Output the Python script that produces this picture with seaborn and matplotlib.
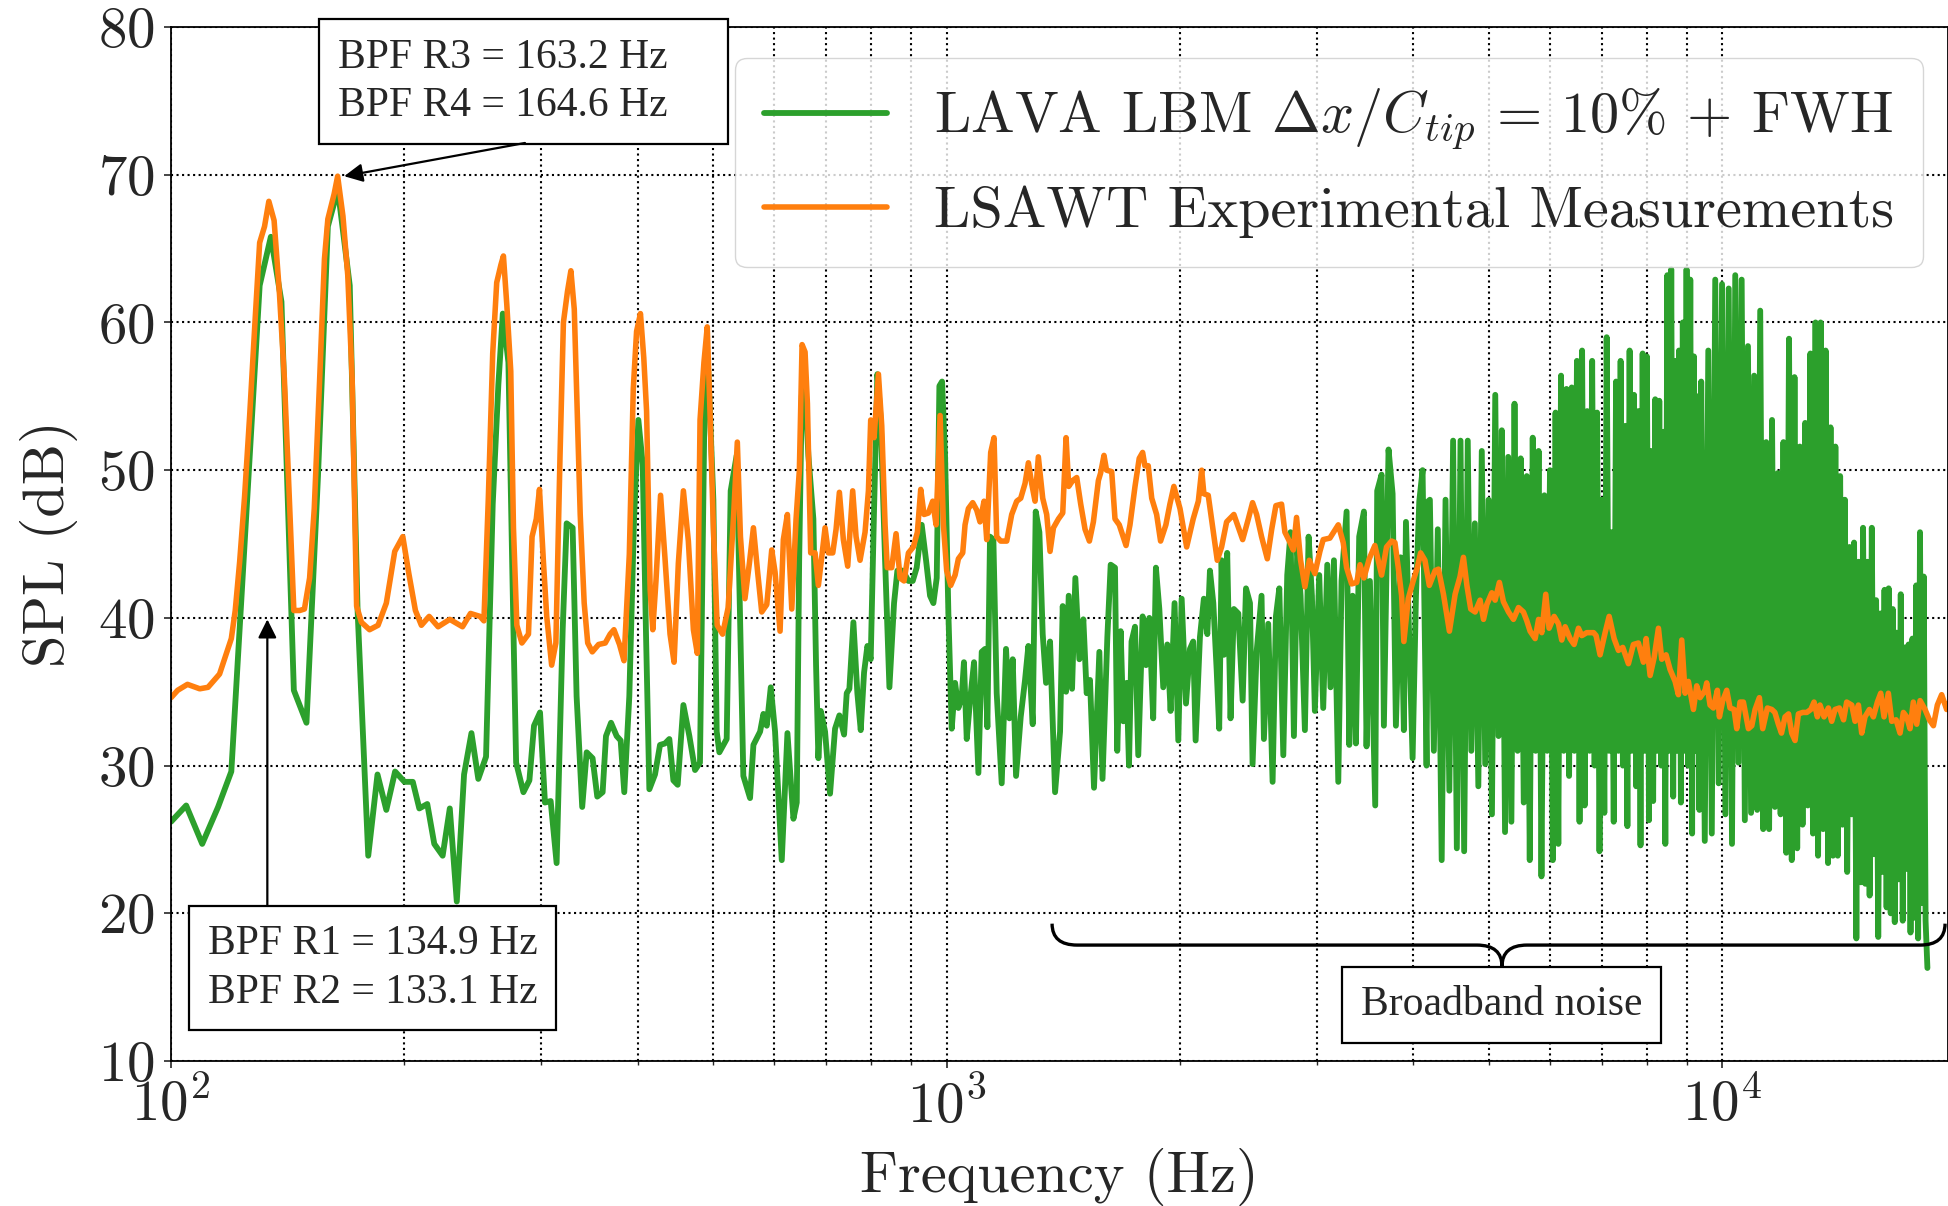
import numpy as np
import pandas as pd
import seaborn as sns
import matplotlib.pyplot as plt
from matplotlib.path import Path
from matplotlib.patches import PathPatch

## LAVA LBM + FWH spectrum, tonal / low frequency part
lava_freq_low = [100, 104.6, 109.7, 115, 119.6, 130.1, 134.5, 138.8, 144, 149.5, 154.7, 159.3, 164.1, 170, 174,
                 179.6, 184.6, 189.5, 194.5, 200, 205, 209, 214, 218.5, 224, 228.8, 233.6, 238.7, 244, 249,
                 254.8, 259.9, 264.3, 267.8, 272.3, 276.4, 278.6, 284.7, 289.8, 293.8, 299.1, 303.5, 308.7, 314.2,
                 319.9, 323.7, 329.5, 333.4, 339, 343.5, 349.6, 354.5, 360.2, 363.8, 369.3, 375.5, 380, 384.1,
                 389.9, 395.4, 400.5, 405.7, 409.7, 413.8, 420.8, 427.1, 433.5, 439.1, 444.4, 450.1, 457.8, 466,
                 473.9, 480.9, 487.2, 493, 500.4, 505.4, 509.4, 520.6, 526.8, 536.3, 547, 558, 563.6, 574.9, 580.6,
                 586.4, 593.4, 601, 613.1, 623.5, 634.7, 641, 645.6, 650.6, 655, 663.5, 673.4, 678.8, 683.5, 688.3,
                 697.2, 707.6, 718.2, 727.5, 737.7, 743.5, 749.4, 758.4, 767.4, 775.1, 782.8, 790.6, 798.4, 806.4,
                 814.4, 822.5, 833.2, 844, 855.7, 864.2, 878.1, 893, 904.5, 915.2, 928.9, 941, 952.2, 961.7, 971.3,
                 979, 986.8, 995.6, 1005.5, 1015.5, 1025.7, 1035.8, 1046, 1053, 1061.8, 1072.3, 1085.1, 1099.2,
                 1110.1, 1121.2, 1128.9, 1137.8, 1149.2, 1160.6, 1178, 1193.2, 1205.1, 1217.1, 1229.2, 1246.4,
                 1262.5, 1275.1, 1291.6, 1303.1, 1317.4, 1330.5, 1343.8, 1359.8, 1380.2, 1400.8, 1412, 1426,
                 1437.3, 1451.6, 1465.9, 1483.4, 1501.1, 1516, 1531, 1549.4, 1574.2]
lava_spl_low = [26.2, 27.3, 24.7, 27.2, 29.6, 62.5, 65.8, 61.4, 35.1, 32.9, 49.6, 66.5, 69.0, 62.5, 40.5,
                23.9, 29.4, 27.0, 29.6, 28.9, 28.9, 27.1, 27.4, 24.7, 23.9, 27.1, 20.8, 29.4, 32.2, 29.1,
                30.6, 47.7, 55.8, 60.6, 57.3, 39.2, 30.2, 28.2, 29.0, 32.7, 33.6, 27.5, 27.6, 23.4,
                39.2, 46.4, 46.1, 34.7, 27.2, 30.9, 30.5, 27.9, 28.2, 32.0, 32.9, 32.0, 31.7, 28.2,
                34.7, 46.7, 53.4, 50.4, 38.9, 28.4, 29.4, 31.4, 31.5, 31.8, 29.0, 28.7, 34.1, 32.0,
                29.7, 30.2, 53.4, 56.7, 48.0, 32.3, 30.9, 31.8, 48.6, 51.0, 29.3, 27.8, 31.4, 32.3, 33.5,
                32.7, 35.3, 32.3, 23.6, 32.2, 26.4, 27.5, 43.9, 55.0, 57.0, 51.0, 46.7, 36.8, 30.5, 33.7,
                32.3, 28.1, 32.5, 33.4, 32.1, 34.9, 35.2, 39.7, 34.9, 32.4, 36.3, 38.1, 37.2, 47.4,
                56.5, 53.4, 43.9, 35.3, 41.0, 43.2, 43.2, 42.5, 42.5, 43.4, 46.3, 43.9, 41.5, 41.0, 42.7,
                55.7, 56.0, 51.0, 40.3, 32.5, 35.6, 33.9, 34.6, 37.0, 31.8, 34.4, 37.0, 29.5,
                37.7, 37.9, 32.6, 45.5, 45.3, 34.9, 28.8, 37.9, 33.2, 37.2, 29.3, 33.3,
                35.8, 38.1, 32.8, 47.2, 45.8, 38.9, 35.6, 38.4, 28.2, 32.3, 40.8, 35.0,
                41.5, 35.2, 42.7, 37.2, 39.9, 34.9, 35.8, 28.5, 37.7]

## LAVA, 1.5 - 4.2 kHz
lava_freq_mid = [1589, 1612, 1628, 1649, 1660, 1677, 1690, 1707, 1719, 1732, 1750, 1767, 1790, 1808, 1826, 1847,
                 1862, 1881, 1903, 1926, 1945, 1968, 1990, 2010, 2036, 2060, 2080, 2095, 2122, 2147, 2169, 2186,
                 2208, 2230, 2247, 2263, 2279, 2301, 2324, 2347, 2378, 2409, 2433, 2462, 2481, 2511, 2548, 2566,
                 2599, 2633, 2659, 2686, 2718, 2750, 2777, 2805, 2833, 2861, 2898, 2930, 2959, 2985, 3024, 3060,
                 3097, 3127, 3159, 3200, 3231, 3280, 3306, 3339, 3372, 3405, 3453, 3480, 3515, 3571, 3592, 3639,
                 3664, 3715, 3760, 3797, 3850, 3888, 3912, 3990, 4030, 4070, 4110, 4159, 4180]
lava_spl_mid = [29.1, 38.7, 43.6, 43.4, 31.0, 39.1, 33.0, 35.6, 30.0, 38.4, 39.4, 30.7, 40.1, 36.8, 40.0, 33.2,
                43.4, 40.6, 35.3, 38.2, 33.7, 41.0, 31.7, 41.3, 34.2, 37.9, 38.4, 31.7, 38.7, 41.3, 38.9, 43.2,
                41.0, 36.5, 32.5, 43.9, 37.5, 44.4, 33.2, 40.6, 40.3, 34.4, 42.0, 41.0, 30.1, 37.7, 41.5, 31.8,
                39.6, 28.9, 40.1, 42.0, 30.7, 42.9, 45.8, 32.0, 44.8, 41.5, 32.4, 45.5, 41.5, 33.7, 42.9, 33.9,
                43.6, 35.3, 43.9, 28.9, 42.5, 47.2, 31.4, 41.5, 31.5, 45.5, 47.2, 31.3, 42.5, 27.3, 48.6, 49.7,
                32.7, 51.4, 48.4, 32.7, 44.1, 32.4, 46.5, 30.5, 41.5, 47.9, 50.0, 30.0, 47.9]

## LAVA broadband part, 4.2 - 9.4 kHz
lava_freq_bb1 = [4200, 4250, 4300, 4350, 4400, 4450, 4500, 4550, 4600, 4650, 4700, 4750, 4800, 4850, 4900, 4950,
                 5000, 5050, 5100, 5150, 5200, 5250, 5300, 5350, 5400, 5450, 5500, 5550, 5600, 5650, 5700, 5750,
                 5800, 5850, 5900, 5950, 6000, 6050, 6100, 6150, 6200, 6250, 6300, 6350, 6400, 6450, 6500, 6550,
                 6600, 6650, 6700, 6750, 6800, 6850, 6900, 6950, 7000, 7050, 7100, 7150, 7200, 7250, 7300, 7350,
                 7400, 7450, 7500, 7550, 7600, 7650, 7700, 7750, 7800, 7850, 7900, 7950, 8000, 8050, 8100, 8150,
                 8200, 8250, 8300, 8350, 8400, 8450, 8500, 8550, 8600, 8650, 8700, 8750, 8800, 8850, 8900, 8950,
                 9000, 9050, 9100, 9150, 9200, 9250, 9300, 9350]
lava_spl_bb1 = [48, 31, 46, 23.6, 48, 28.3, 52, 24.4, 52, 24.2,
                52, 31, 46.4, 28.6, 51.3, 30.1, 48, 26.7, 55.1, 32,
                52.7, 25.5, 50.9, 26.2, 54.5, 31, 50.8, 27.5, 49.6, 23.6,
                52.2, 31, 51.3, 22.5, 48.3, 31, 50, 23.6, 53.9, 24.7,
                56.4, 31, 55.5, 29.3, 55.6, 31, 57.4, 26.2, 58.1, 27.3,
                54, 31, 57.4, 30, 53.9, 24.2, 48, 26.8, 59, 31,
                45.8, 26.2, 56, 31, 57.4, 30, 53, 25.9, 58.1, 31,
                55.1, 28.6, 54, 24.6, 57.9, 31, 57.7, 26.3, 51.3, 27.6,
                54.8, 31, 54.7, 30, 52.6, 24.7, 63.2, 31, 63.6, 27.9,
                57.4, 31, 58.1, 27.5, 60, 31, 63.6, 30, 62.9, 25.4,
                57.7, 31, 55, 27]

## LAVA broadband part, 9.4 - 18.4 kHz
lava_freq_bb2 = [9400, 9500, 9600, 9700, 9800, 9900, 10000, 10100, 10200, 10300, 10400, 10500, 10600, 10700,
                 10800, 10900, 11000, 11100, 11200, 11300, 11400, 11500, 11600, 11700, 11800, 11900, 12000,
                 12100, 12200, 12300, 12400, 12500, 12600, 12700, 12800, 12900, 13000, 13100, 13200, 13300,
                 13400, 13500, 13600, 13700, 13800, 13900, 14000, 14100, 14200, 14300, 14400, 14500, 14600,
                 14700, 14800, 14900, 15000, 15100, 15200, 15300, 15400, 15500, 15600, 15700, 15800, 15900,
                 16000, 16100, 16200, 16300, 16400, 16500, 16600, 16700, 16800, 16900, 17000, 17100, 17200,
                 17300, 17400, 17500, 17600, 17700, 17800, 17900, 18000, 18100, 18200, 18300, 18400]
lava_spl_bb2 = [56, 24.9, 58.1, 25.4, 62.9, 28.8, 62.6, 26.7, 62.3, 24.7, 63.2, 30.2, 62.9, 26.3,
                58.4, 26.8, 56.4, 27, 60.8, 25.7, 51.9, 25.7, 53.4, 27.2, 49.8, 26.7, 51.9,
                24.1, 58.9, 23.6, 56.3, 24.4, 51.6, 26, 53.2, 27.3, 57.9, 25.4, 60, 23.9,
                60, 25.7, 58.1, 23.4, 52.9, 23.9, 51.6, 23.9, 49.6, 26, 48, 22.8, 44.8,
                26.7, 45.1, 18.3, 43.8, 22.1, 46.1, 22, 43.8, 21.2, 46.1, 24, 41.2, 18.4,
                40.3, 22.8, 41.9, 20.4, 42, 20, 40.6, 19.4, 39, 22.3, 41.6, 19.5, 38,
                23, 38.2, 18.7, 38.6, 19.7, 42.2, 18.3, 45.8, 20.7, 42.8, 19.5, 16.3]

## LSAWT experimental measurements
exp_freq = [100, 102, 105, 108.9, 111.6, 115.5, 119.6, 121, 122.6, 124.4, 126.3, 128.4, 130.1, 132, 133.7, 135.8,
            138, 140, 141.7, 144, 146.5, 148.6, 150.9, 153, 155.4, 157.7, 159.3, 162.3, 164, 166.6, 169, 171.2,
            173.5, 176, 180.3, 184.9, 189.5, 194.3, 199, 202.6, 206.6, 210.3, 215.2, 221, 228.8, 237.6, 243.3,
            250.3, 253.2, 256.5, 259.9, 263, 266.3, 268.3, 271, 274.2, 276.4, 279.2, 283.4, 289, 292.1, 295.8,
            298.6, 302.2, 305.1, 309.6, 313.5, 317.4, 320.6, 324.5, 327.8, 331.1, 334.2, 337, 341, 344.6, 349.3,
            355.9, 363, 368.3, 372.5, 378.7, 383.8, 389.9, 394.5, 398.4, 403, 407, 410.4, 414.8, 418, 422, 427.8,
            433.5, 440, 445.3, 451, 457.8, 464.6, 471.6, 477.1, 481, 486.6, 491.4, 495.2, 500.4, 506.1, 514.3,
            522.9, 531.5, 537.3, 542.3, 549.6, 556.9, 563.6, 570.7, 577.7, 586.4, 595.1, 601,
            610, 616, 623.4, 631.6, 639.7, 646, 651.2, 657, 661.6, 668.1, 676.8, 683.5, 690.3, 697.2, 704.1,
            713.3, 720.4, 727.5, 736.1, 745.7, 756.8, 764.4, 773.5, 785.1, 793, 798.4, 806.4, 816.9, 825, 833.2,
            838.6, 849.8, 860.8, 871.1, 881.5, 893, 906.2, 917.1, 926.2, 935.4, 947.6, 959.8, 969.4, 981, 990.8,
            1000.4, 1012.5, 1025.7, 1035.8, 1049.2, 1056.5, 1067, 1080.8, 1093.7, 1104.5, 1117.8, 1126.7, 1140.1,
            1151.4, 1160.6, 1174.5, 1195.6, 1213.5, 1231.7, 1246.4, 1262.5, 1275.1, 1287.6, 1300.5, 1313.4,
            1330.5, 1346.3, 1359.8, 1373.6, 1394.2, 1412, 1426, 1437.3, 1454.5, 1471.9, 1489.4, 1508.7, 1528.3,
            1546.5, 1569.7, 1580, 1596, 1608, 1633, 1649, 1670, 1704, 1724, 1750, 1772, 1790, 1802, 1820, 1839,
            1866, 1888, 1918, 1941, 1964, 2000, 2040, 2080, 2112, 2133, 2147, 2175, 2208, 2234, 2263, 2297, 2347,
            2409, 2450, 2481, 2511, 2548, 2592, 2626, 2659, 2704, 2731, 2767, 2800, 2827, 2861, 2898, 2936, 2985,
            3030, 3060, 3121, 3200, 3247, 3280, 3329, 3380, 3413, 3453, 3508, 3567, 3639, 3693, 3749, 3786, 3824,
            3862, 3888, 3939, 3997, 4046, 4086, 4139, 4193, 4266, 4308, 4373, 4451, 4527, 4594, 4640, 4688, 4742,
            4804, 4875, 4925, 4973, 5048, 5098, 5163, 5225, 5305, 5383, 5464, 5545, 5601, 5656, 5741, 5800, 5855,
            5925, 5984, 6074, 6153, 6213, 6276, 6368, 6445, 6529, 6594, 6692, 6829, 6880, 6962, 7067, 7152, 7258,
            7352, 7447, 7573, 7686, 7801, 7918, 7982, 8077, 8173, 8279, 8361, 8469, 8571, 8699, 8785, 8872, 8961,
            9049, 9185, 9276, 9369, 9509, 9555, 9650, 9746, 9862, 9922, 10021, 10140, 10240, 10364, 10446, 10549,
            10654, 10814, 10923, 11031, 11172, 11284, 11441, 11591, 11698, 11822, 11930, 12058, 12183, 12299,
            12421, 12545, 12708, 12860, 13016, 13141, 13272, 13376, 13537, 13713, 13849, 13987, 14169, 14344,
            14478, 14697, 14843, 14991, 15139, 15287, 15489, 15673, 15860, 16018, 16176, 16385, 16552, 16766,
            16964, 17134, 17303, 17474, 17647, 17825, 18004, 18271, 18508, 18731, 18951, 19196, 19483, 19600]
exp_spl = [34.6, 35.1, 35.5, 35.2, 35.3, 36.2, 38.6, 40.5, 43.8, 48.2, 53.7, 60.3, 65.4, 66.5, 68.2, 66.9,
           61.9, 56.2, 49.6, 40.5, 40.5, 40.6, 42.7, 47.4, 55.9, 64.3, 67.0, 68.7, 69.9, 67.2, 63.2, 56.2,
           40.8, 39.7, 39.2, 39.5, 41.0, 44.5, 45.5, 43.0, 40.5, 39.5, 40.1, 39.4, 39.9, 39.4, 40.3,
           40.1, 39.8, 48.0, 57.9, 62.7, 63.9, 64.5, 61.2, 56.7, 46.1, 39.5, 38.3, 38.9, 45.5, 46.7,
           48.7, 43.7, 40.1, 36.8, 38.3, 51.0, 60.0, 62.1, 63.5, 60.9, 53.7, 47.0, 41.0, 38.3, 37.7,
           38.2, 38.3, 38.9, 39.2, 38.2, 37.1, 44.3, 55.5, 59.4, 60.6, 57.6, 54.0, 41.9, 39.2, 42.5, 48.3,
           44.0, 38.9, 37.0, 43.7, 48.6, 45.2, 39.2, 37.6, 53.4, 57.3, 59.7, 54.3, 46.1, 39.5, 38.9,
           40.7, 47.0, 51.9, 45.5, 41.3, 43.7, 46.1, 43.1, 40.4, 40.9, 44.6, 43.1,
           39.1, 45.3, 47.0, 40.6, 46.7, 50.0, 58.5, 58.0, 54.5, 44.4, 44.4, 42.2, 44.1, 46.1, 44.4,
           44.4, 46.0, 48.5, 45.3, 43.5, 48.6, 45.5, 43.9, 45.8, 48.6, 53.4, 52.2, 56.5, 53.0, 46.3,
           43.4, 43.4, 45.7, 42.7, 42.5, 44.4, 44.8, 45.8, 48.7, 47.0, 47.1, 47.9, 46.3, 53.7, 46.3,
           43.2, 42.2, 42.9, 44.0, 44.4, 46.3, 47.4, 47.8, 47.3, 46.5, 47.9, 45.3, 51.2,
           52.2, 45.5, 45.2, 45.2, 47.0, 47.9, 48.1, 49.1, 50.5, 49.1, 47.9, 50.9,
           48.1, 47.0, 44.5, 46.1, 46.7, 47.1, 52.2, 48.9, 49.3, 49.5, 47.7, 46.0, 45.2,
           46.5, 49.3, 49.8, 51.0, 50.0, 49.9, 46.7, 46.3, 44.9, 46.3, 48.9, 50.8, 51.2, 50.3, 50.3, 48.1,
           47.0, 45.2, 46.3, 47.7, 48.9, 47.4, 44.8, 46.7, 47.9, 50.0, 48.4, 48.3, 45.8, 43.9, 44.8, 46.5, 47.0,
           45.3, 46.7, 47.8, 47.0, 45.5, 44.0, 46.0, 47.6, 47.7, 45.8, 45.2, 44.6, 46.8, 43.9, 42.1, 43.9, 43.0,
           44.5, 45.3, 45.4, 46.3, 45.1, 43.4, 42.3, 42.4, 43.6, 42.7, 44.0, 44.9, 42.9, 44.8, 45.2, 45.1, 43.4,
           41.5, 38.4, 41.3, 42.5, 43.4, 44.4, 43.9, 42.2, 43.2, 43.3, 41.6, 39.1, 41.6, 42.8, 44.1, 42.2, 40.6,
           40.4, 41.2, 39.9, 40.9, 41.7, 41.2, 42.4, 41.1, 40.4, 39.9, 40.7, 40.4, 39.8, 39.1, 38.6, 39.9, 39.0,
           41.6, 39.3, 40.1, 39.6, 38.5, 39.4, 38.6, 38.2, 39.3, 38.8, 39.0, 39.0, 38.8, 37.5, 39.0, 40.1, 38.6,
           37.8, 38.0, 36.9, 38.2, 38.3, 37.0, 38.6, 36.1, 37.3, 39.3, 37.2, 37.5, 36.5, 35.7, 34.8, 38.5, 34.9,
           35.7, 33.8, 35.4, 34.6, 35.1, 35.6, 34.1, 33.9, 35.1, 33.3, 34.4, 35.1, 33.9, 33.8, 32.5, 34.3,
           34.3, 32.5, 32.7, 33.8, 34.6, 32.5, 33.9, 33.8, 33.6, 32.8, 32.2, 33.3, 33.5, 32.2,
           31.7, 33.5, 33.6, 33.6, 33.8, 34.3, 33.3, 34.1, 33.3, 33.9, 33.0, 33.8, 33.9, 33.1,
           34.3, 34.1, 33.0, 34.1, 32.2, 33.3, 33.8, 33.3, 34.3, 34.9, 33.3, 34.9, 33.0, 33.1,
           32.2, 33.6, 33.3, 32.5, 34.3, 32.8, 34.4, 33.8, 33.1, 32.7, 34.1, 34.8, 33.8, 34.2]

## annotation values
bpf_r12_text = 'BPF R1 = 134.9 Hz\nBPF R2 = 133.1 Hz'
bpf_r34_text = 'BPF R3 = 163.2 Hz    \nBPF R4 = 164.6 Hz    '
bpf_r2 = 133.1
bpf_r4_peak = (167.2, 69.9)
brace_lo, brace_mid, brace_hi = 1368, 5203, 19390

lava = pd.DataFrame({'freq': lava_freq_low + lava_freq_mid + lava_freq_bb1 + lava_freq_bb2,
                     'spl': lava_spl_low + lava_spl_mid + lava_spl_bb1 + lava_spl_bb2})
exp = pd.DataFrame({'freq': exp_freq, 'spl': exp_spl})

sns.set_style('ticks')
plt.rcParams['font.family'] = 'serif'
plt.rcParams['font.serif'] = ['cmr10', 'DejaVu Serif']
plt.rcParams['mathtext.fontset'] = 'cm'
plt.rcParams['axes.formatter.use_mathtext'] = True
plt.rcParams['axes.unicode_minus'] = False

fig = plt.figure(figsize=(19.48, 12.06), dpi=100)
ax = fig.add_axes([0.0878, 0.1202, 0.9122, 0.8574])

sns.lineplot(data=lava, x='freq', y='spl', ax=ax, color='#2ca02c', lw=4.2, sort=False, estimator=None,
             label=r'LAVA LBM $\Delta x/C_{tip} \,=\, 10\%$ + FWH')
sns.lineplot(data=exp, x='freq', y='spl', ax=ax, color='#ff7f0e', lw=4.0, sort=False, estimator=None,
             label='LSAWT Experimental Measurements')

ax.set_xscale('log')
ax.set_xlim(100, 19560)
ax.set_ylim(10, 80)
ax.set_yticks(range(10, 81, 10))
ax.grid(True, which='both', axis='x', ls=':', color='k', lw=1.5)
ax.grid(True, which='major', axis='y', ls=':', color='k', lw=1.5)
ax.set_xlabel('Frequency (Hz)', fontsize=42, labelpad=10)
ax.set_ylabel('SPL (dB)', fontsize=42, labelpad=14)
ax.tick_params(axis='both', which='major', labelsize=41, pad=7, width=1.2, length=5)
ax.tick_params(axis='x', which='minor', width=1, length=3)
for s in ax.spines.values():
    s.set_linewidth(1.3)
    s.set_color('k')

ax.legend(loc='upper right', bbox_to_anchor=(0.9859, 0.970), fontsize=42, handlelength=2.1,
          borderaxespad=0, borderpad=0.5, labelspacing=0.55)

box = dict(boxstyle='square,pad=0.45', fc='white', ec='black', lw=1.6)
afont = dict(family='Liberation Serif', fontsize=30)
arrow = dict(arrowstyle='-|>', color='k', lw=1.6, mutation_scale=28, shrinkA=0, shrinkB=0)

# BPF R3/R4 box with arrow to the peak
ax.text(285, 76.3, bpf_r34_text, ha='center', va='center', bbox=box, zorder=6, linespacing=1.35, **afont)
ax.annotate('', xy=bpf_r4_peak, xytext=(286, 72.15), arrowprops=arrow, annotation_clip=False, zorder=6)

# BPF R1/R2 box with vertical arrow
ax.text(182, 16.3, bpf_r12_text, ha='center', va='center', bbox=box, zorder=6, linespacing=1.35, **afont)
ax.annotate('', xy=(bpf_r2, 39.9), xytext=(bpf_r2, 20.5), arrowprops=arrow, zorder=6)

# curly brace over the broadband region
y_end, y_bar, y_tip = 19.3, 17.85, 16.4
k = 10 ** (25 / 775.5)
verts = [(brace_lo, y_end), (brace_lo, y_bar), (brace_lo * k, y_bar),
         (brace_mid / k, y_bar), (brace_mid, y_bar), (brace_mid, y_tip),
         (brace_mid, y_bar), (brace_mid * k, y_bar),
         (brace_hi / k, y_bar), (brace_hi, y_bar), (brace_hi, y_end)]
codes = [Path.MOVETO, Path.CURVE3, Path.CURVE3,
         Path.LINETO, Path.CURVE3, Path.CURVE3,
         Path.CURVE3, Path.CURVE3,
         Path.LINETO, Path.CURVE3, Path.CURVE3]
ax.add_patch(PathPatch(Path(verts, codes), fill=False, ec='k', lw=2.4, zorder=6, clip_on=False))
ax.text(brace_mid, 13.8, 'Broadband noise', ha='center', va='center', bbox=box, zorder=6, **afont)

fig.savefig('out.png', dpi=100)
